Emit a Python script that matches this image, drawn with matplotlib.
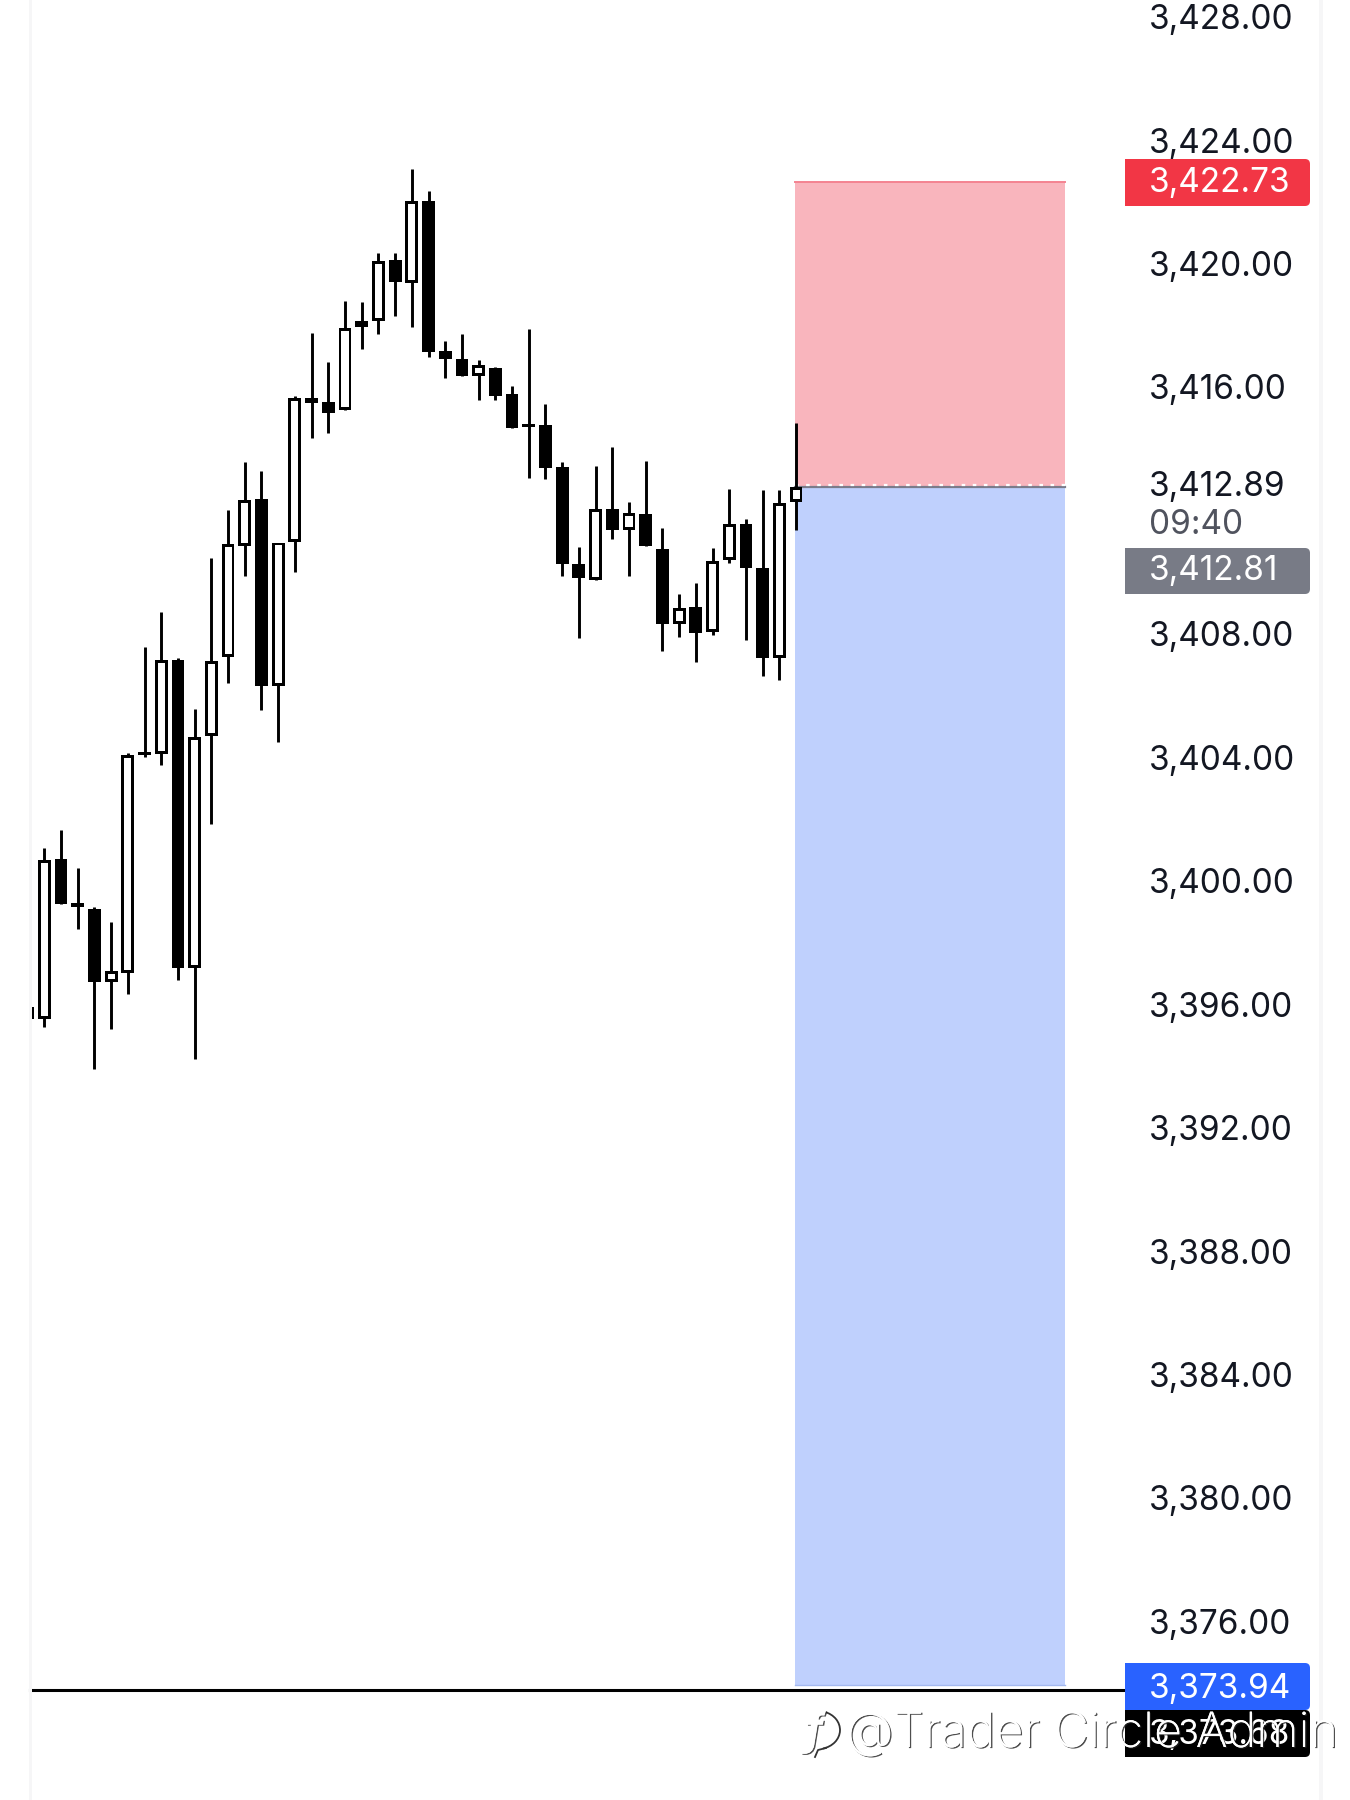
import matplotlib
matplotlib.use('Agg')
import matplotlib.pyplot as plt
import matplotlib.patheffects as pe
from matplotlib.patches import FancyBboxPatch, Rectangle, Arc

plt.rcParams['font.family'] = ['Inter', 'DejaVu Sans']

# candles, oldest first (the first one is cut off by the left edge)
opens = [3395.90, 3395.53, 3400.71, 3399.27, 3399.07, 3396.73, 3397.00, 3404.16, 3404.12, 3407.16, 3397.18,
         3404.68, 3407.24, 3410.86, 3412.36, 3406.32, 3410.98, 3415.65, 3415.50, 3415.25, 3418.14, 3418.14,
         3420.13, 3419.37, 3422.04, 3417.16, 3416.92, 3416.36, 3416.60, 3415.76, 3414.81, 3414.76, 3413.40,
         3410.27, 3409.74, 3412.06, 3411.36, 3411.88, 3410.76, 3408.33, 3408.87, 3408.06, 3410.40, 3411.57,
         3410.15, 3407.23, 3412.26]
highs = [3395.90, 3401.05, 3401.65, 3400.40, 3399.14, 3398.65, 3404.15, 3407.59, 3408.72, 3407.23, 3405.57,
         3410.47, 3412.00, 3413.56, 3413.27, 3410.96, 3415.71, 3417.74, 3416.80, 3418.80, 3418.77, 3420.35,
         3420.35, 3423.07, 3422.36, 3417.50, 3417.73, 3416.86, 3416.66, 3416.02, 3417.87, 3415.44, 3413.56,
         3410.82, 3413.43, 3414.06, 3412.26, 3413.59, 3411.43, 3409.30, 3409.65, 3410.78, 3412.69, 3411.73,
         3412.66, 3412.66, 3414.83]
lows = [3395.51, 3395.26, 3399.24, 3398.43, 3393.90, 3395.19, 3396.33, 3404.01, 3403.75, 3396.78, 3394.22,
        3401.84, 3406.40, 3409.89, 3405.53, 3404.49, 3409.99, 3414.35, 3414.51, 3415.25, 3417.22, 3417.71,
        3418.29, 3417.94, 3416.96, 3416.29, 3416.35, 3415.58, 3415.58, 3414.68, 3413.06, 3413.03, 3409.86,
        3407.87, 3409.74, 3411.07, 3409.89, 3410.86, 3407.43, 3407.91, 3407.08, 3407.96, 3410.31, 3407.80,
        3406.65, 3406.50, 3411.35]
closes = [3395.51, 3400.68, 3399.24, 3399.15, 3396.72, 3397.07, 3404.07, 3404.07, 3407.15, 3397.17, 3404.65,
          3407.12, 3410.91, 3412.34, 3406.31, 3410.96, 3415.63, 3415.49, 3415.16, 3417.92, 3417.93, 3420.07,
          3419.39, 3422.02, 3417.13, 3416.92, 3416.35, 3416.71, 3415.71, 3414.68, 3414.69, 3413.39, 3410.25,
          3409.80, 3412.04, 3411.35, 3411.93, 3410.86, 3408.31, 3408.83, 3408.03, 3410.36, 3411.56, 3410.12,
          3407.22, 3412.25, 3412.77]

tick_values = [3428, 3424, 3420, 3416, 3408, 3404, 3400, 3396, 3392, 3388, 3384, 3380, 3376]

stop_price = 3422.64
entry_price = 3412.76
target_price = 3373.94
tool_start = 44.96
tool_end = 61.1

BLACK = '#000000'
TEXT = '#131722'
LABEL_SIZE = 24

fig = plt.figure(figsize=(13.5, 18), dpi=100, facecolor='white')
W, H = 1350, 1800

# price pane, x 30..1123 px, y 0..1689 px
ax = fig.add_axes([30 / W, 1 - 1689.5 / H, (1123 - 30) / W, 1689.5 / H])
ax.set_xlim(-0.856, 64.57)
ax.set_ylim(3428.54 - 1689.5 / 30.86, 3428.54)
for side in ['top', 'left', 'right']:
    ax.spines[side].set_visible(False)
ax.spines['bottom'].set_linewidth(2.2)
ax.spines['bottom'].set_color(BLACK)
ax.set_xticks([])
ax.set_yticks(tick_values)
ax.set_yticklabels([f'{v:,.2f}' for v in tick_values], fontsize=LABEL_SIZE, color=TEXT)
ax.yaxis.tick_right()
ax.tick_params(axis='y', length=0, pad=18.5)

# risk / reward boxes
ax.fill_between([tool_start, tool_end], entry_price, stop_price, color='#f9b5bd', lw=0, zorder=1)
ax.fill_between([tool_start, tool_end], target_price, entry_price, color='#bfd0fd', lw=0, zorder=1)
ax.plot([tool_start, tool_end], [stop_price, stop_price], color='#f48391', lw=1.4, zorder=2)
ax.plot([tool_start, tool_end], [target_price, target_price], color='#a3b8ef', lw=1.0, zorder=2)
ax.plot([tool_start, tool_end], [entry_price, entry_price], color='#7a7b8a', lw=1.6, zorder=2)
ax.plot([tool_start, tool_end], [entry_price + 0.06, entry_price + 0.06], color='white', lw=1.6,
        dashes=(1.6, 3.4), zorder=2)

# candles
for i in range(len(opens)):
    x = i - 1
    top = max(opens[i], closes[i])
    bottom = min(opens[i], closes[i])
    ax.vlines(x, lows[i], highs[i], color=BLACK, lw=2.1, zorder=3)
    ax.bar(x, top - bottom, 0.77, bottom, color=BLACK, lw=0, zorder=4)
    if closes[i] > opens[i]:
        ax.bar(x, top - bottom - 0.19, 0.42, bottom + 0.095, color='white', lw=0, zorder=5)

# overlay in pixels for the price labels and the frame strips
ov = fig.add_axes([0, 0, 1, 1], facecolor='none')
ov.set_xlim(0, W)
ov.set_ylim(H, 0)
ov.axis('off')
ov.add_patch(Rectangle((29, 0), 2.5, H, color='#f6f6f7', lw=0))
ov.add_patch(Rectangle((1319, 0), 4, H, color='#f6f6f7', lw=0))


def price_box(y0, y1, color, label, text_y, text_color='white'):
    ov.add_patch(FancyBboxPatch((1131, y0), 179, y1 - y0, boxstyle='round,pad=0,rounding_size=5',
                                color=color, lw=0))
    ov.add_patch(Rectangle((1125, y0), 12, y1 - y0, color=color, lw=0))
    ov.text(1149, text_y, label, color=text_color, fontsize=LABEL_SIZE, va='center_baseline', ha='left')


price_box(1710, 1757, BLACK, '3,373.68', 1732)
price_box(159, 206, '#f23645', '3,422.73', 180)
price_box(548, 594, '#787b86', '3,412.81', 568)
price_box(1663, 1710, '#2962ff', '3,373.94', 1685)
ov.text(1149, 483, '3,412.89', color=TEXT, fontsize=LABEL_SIZE, va='center_baseline')
ov.text(1149, 522, '09:40', color='#50535e', fontsize=LABEL_SIZE, va='center_baseline')

# watermark
shadow = [pe.withSimplePatchShadow(offset=(1.0, -0.8), shadow_rgbFace='#222222', alpha=0.8), pe.Normal()]
ov.text(846, 1747, '@Trader Circle Admin', color='white', fontsize=35, fontweight='light',
        va='baseline', ha='left', path_effects=shadow)
ov.text(814, 1744, 'f', color='white', fontsize=32, style='italic', fontweight='bold', ha='center',
        va='baseline', path_effects=shadow)
ov.add_patch(Arc((818, 1730), 44, 38, theta1=-70, theta2=75, color='#333333', lw=1.3))
ov.plot([826, 818, 815], [1748, 1750, 1757], color='#333333', lw=1.3)

fig.savefig('out.png', dpi=100, facecolor='white')
